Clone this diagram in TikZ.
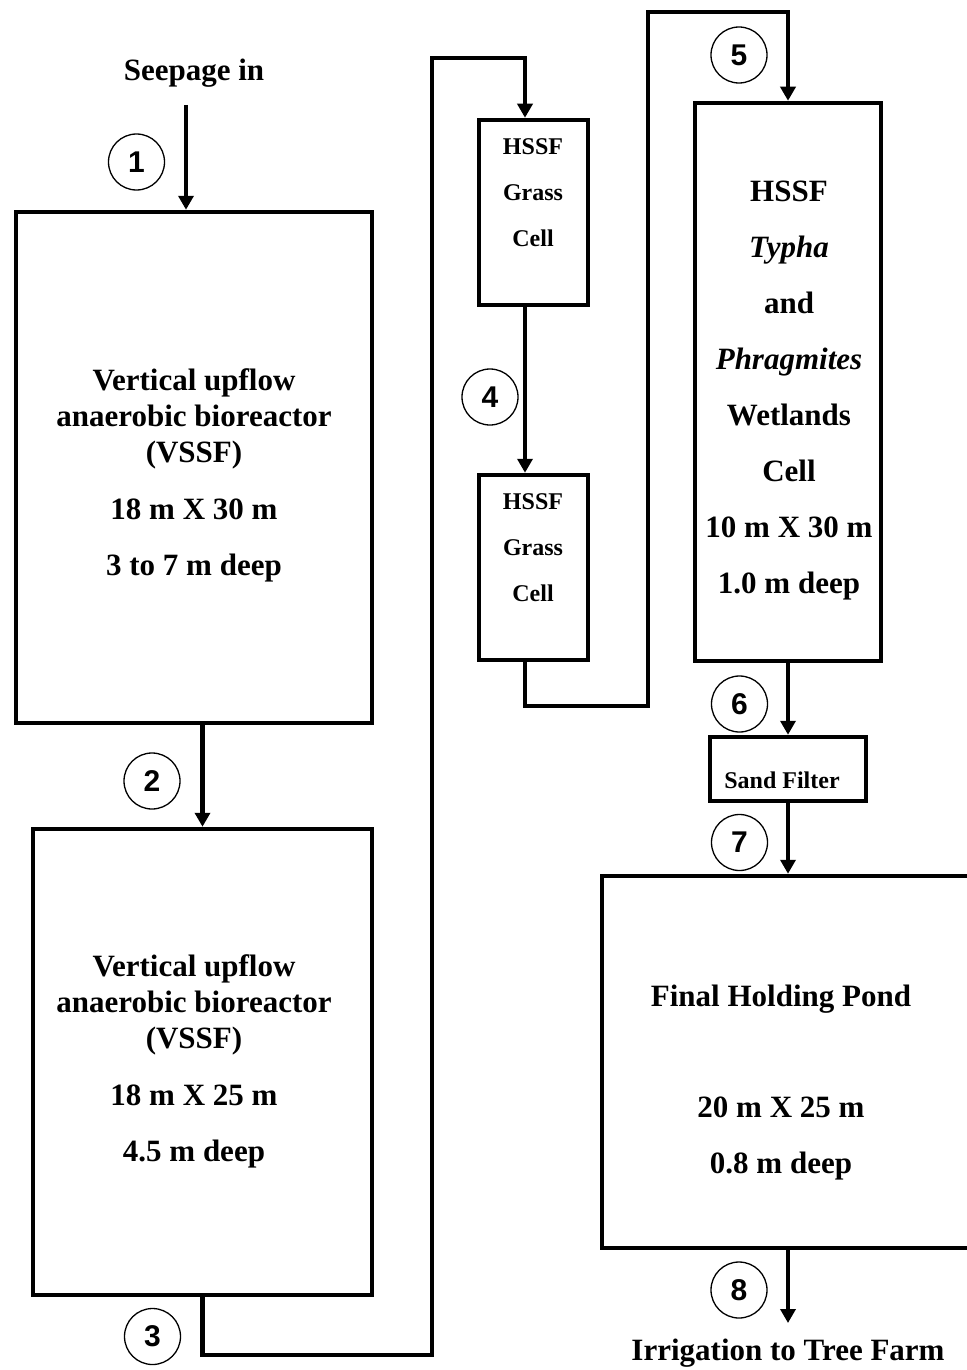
\documentclass[tikz,border=0pt]{standalone}
\usepackage{fontspec}
\setmainfont{Liberation Serif}
\newfontfamily\numfont{Liberation Sans}
\usetikzlibrary{arrows.meta}
\begin{document}
\begin{tikzpicture}[x=1pt,y=-1pt,
  box/.style={draw,line width=4.5pt,inner sep=0pt},
  pipe/.style={line width=4.5pt},
  flow/.style={line width=4.5pt,-{Triangle[width=15pt,length=14pt]}},
  num/.style={draw,circle,line width=1.3pt,minimum size=56pt,inner sep=0pt,font=\numfont\bfseries\fontsize{30}{30}\selectfont},
  txt/.style={align=center,inner sep=0pt,font=\bfseries\fontsize{31}{36}\selectfont},
  txtb/.style={align=center,inner sep=0pt,font=\bfseries\fontsize{31}{56}\selectfont},
  txts/.style={align=center,inner sep=0pt,font=\bfseries\fontsize{24}{46}\selectfont},
]
\useasboundingbox (0,0) rectangle (966,1370);
% boxes
\node[box,minimum width=356pt,minimum height=511pt] (b1) at (194,467.5) {};
\node[box,minimum width=339pt,minimum height=466pt] (b2) at (202.5,1062) {};
\node[box,minimum width=109pt,minimum height=185pt] (g1) at (533.5,212.5) {};
\node[box,minimum width=109pt,minimum height=185pt] (g2) at (533.5,567.5) {};
\node[box,minimum width=186pt,minimum height=558pt] (big) at (788,382) {};
\node[box,minimum width=156pt,minimum height=64pt] (sand) at (788,769) {};
\node[box,minimum width=372pt,minimum height=372pt] (pond) at (788,1062) {};
% coordinates
\coordinate (x525) at (525,0);
\coordinate (x788) at (788,0);
\coordinate (s0) at (186,105);
\coordinate (c3a) at (432,1355);
\coordinate (c3b) at (525,58);
\coordinate (c5a) at (648,706);
\coordinate (c5b) at (788,12);
\coordinate (e8) at (788,1323);
% texts
\node[txt] (seep) at (194,73) {Seepage in};
\node[txt] (t1) at (194,475) {Vertical upflow\\anaerobic bioreactor\\(VSSF)\\[21pt]18 m X 30 m\\[20pt]3 to 7 m deep};
\node[txt] (t2) at (194,1061) {Vertical upflow\\anaerobic bioreactor\\(VSSF)\\[21pt]18 m X 25 m\\[20pt]4.5 m deep};
\node[txts] (tg1) at (533,193) {HSSF\\Grass\\Cell};
\node[txts] (tg2) at (533,548) {HSSF\\Grass\\Cell};
\node[txtb] (tbig) at (789,391) {HSSF\\\textit{Typha}\\and\\\textit{Phragmites}\\Wetlands\\Cell\\10 m X 30 m\\1.0 m deep};
\node[txts] (tsand) at (782,780) {Sand Filter};
\node[txt] (tpond) at (781,999) {Final Holding Pond};
\node[txt] (tpond2) at (781,1138) {20 m X 25 m\\[20pt]0.8 m deep};
\node[txt] (irr) at (788,1353) {Irrigation to Tree Farm};
% numbers
\node[num] (n1) at (136.5,162) {1};
\node[num] (n2) at (152,781) {2};
\node[num] (n3) at (152.5,1336.5) {3};
\node[num] (n4) at (490,397) {4};
\node[num] (n5) at (739,55) {5};
\node[num] (n6) at (739.5,704) {6};
\node[num] (n7) at (739.5,842.5) {7};
\node[num] (n8) at (739,1290) {8};
% connectors
\draw[flow] (s0) -- (s0 |- b1.north);
\draw[flow] (b1.south -| b2.north) -- (b2.north);
\draw[flow] (b2.south) |- (c3a) |- (c3b) -- (g1.north -| x525);
\draw[flow] (g1.south -| x525) -- (g2.north -| x525);
\draw[flow] (g2.south -| x525) |- (c5a) |- (c5b) -- (big.north);
\draw[flow] (big.south) -- (sand.north);
\draw[flow] (sand.south) -- (pond.north -| x788);
\draw[flow] (pond.south -| x788) -- (e8);
\end{tikzpicture}
\end{document}
